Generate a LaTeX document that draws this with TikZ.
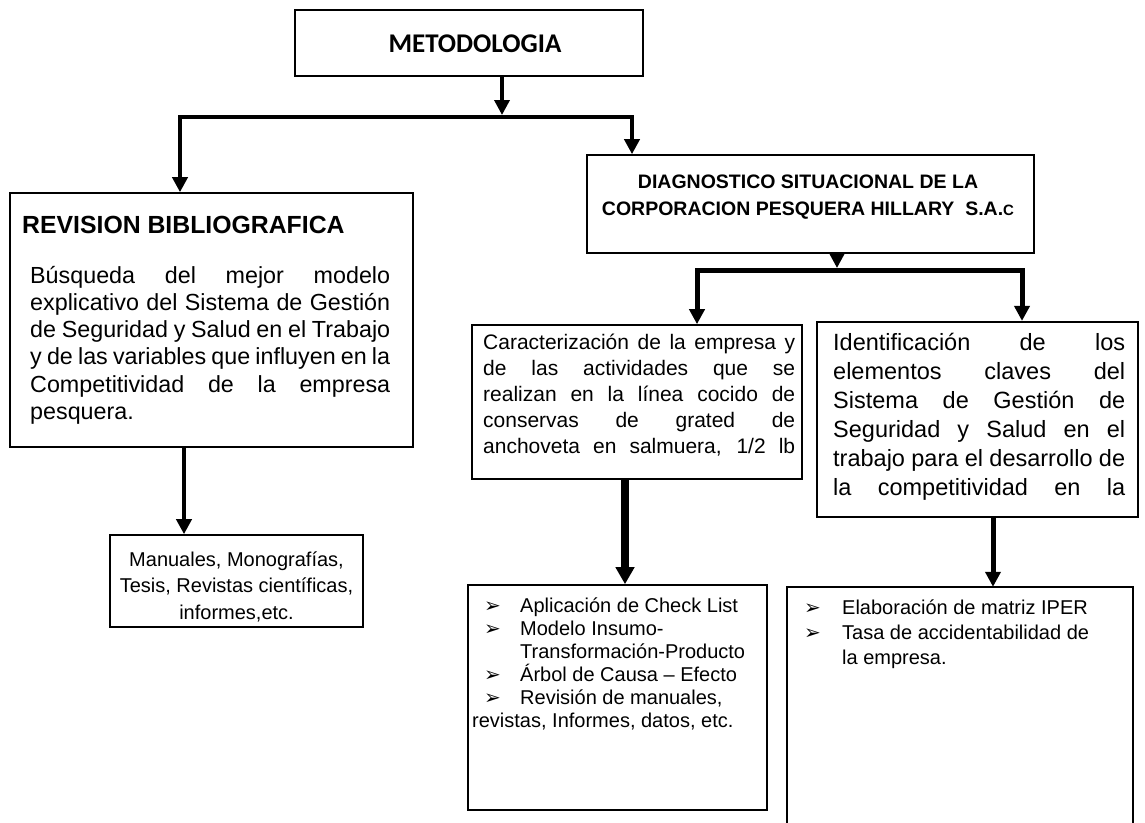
\documentclass[tikz,border=0pt]{standalone}
\usepackage{fontspec}
\setmainfont{Liberation Sans}
\newfontfamily\calfont{Carlito}
\newfontfamily\symfont{DejaVu Sans}
\usetikzlibrary{arrows.meta}

% list marker used in the two bullet boxes
\newcommand\arrbul{{\symfont\fontsize{20}{20}\selectfont ➢}}
% one fully justified line of a given width (font's own stretchable spaces)
\newcommand\jline[2]{{\spaceskip=0pt\xspaceskip=0pt\makebox[#1][s]{#2}}}

\tikzset{
  box/.style={draw, line width=1.6pt, inner sep=0pt, rectangle},
  txt/.style={inner sep=0pt, anchor=base west, align=flush left},
  ctxt/.style={inner sep=0pt, anchor=base, align=flush center},
  tip/.style={-{Triangle[length=15pt,width=15pt]}},
  bigtip/.style={-{Triangle[length=17pt,width=18pt]}},
  twotips/.style={{Triangle[length=15pt,width=15pt]}-{Triangle[length=15pt,width=15pt]}},
}

\begin{document}
\begin{tikzpicture}[x=1pt,y=-1pt]
\fill[white] (0,0) rectangle (1145,822);
\useasboundingbox (0,0) rectangle (1145,822);

% ---------- boxes ----------
\node[box, minimum width=348, minimum height=66] (meto) at (469,43) {};
\node[box, minimum width=403, minimum height=254] (rev) at (211.5,320) {};
\node[box, minimum width=253, minimum height=92] (man) at (236.5,581) {};
\node[box, minimum width=447, minimum height=98] (diag) at (810.5,204) {};
\node[box, minimum width=330, minimum height=154] (car) at (637,402) {};
\node[box, line width=2.2pt, minimum width=321, minimum height=195] (ide) at (977.5,419.5) {};
\node[box, minimum width=299, minimum height=225] (bul) at (617.5,697.5) {};
% the last box runs past the lower edge of the page
\node[inner sep=0pt, minimum width=346, minimum height=240] (iper) at (960,707) {};
\draw[line width=2.2pt] (iper.south west) -- (iper.north west) -- (iper.north east) -- (iper.south east);

% ---------- texts ----------
\node[ctxt, font={\calfont\bfseries\fontsize{27}{30}\selectfont}] (metot) at (475,52) {METODOLOGIA};

\node[txt, font={\bfseries\fontsize{24.8}{28}\selectfont}] (revtitle) at (22,233) {REVISION BIBLIOGRAFICA};
\node[txt, text width=360, font={\fontsize{23.3}{27.3}\selectfont}] (revt) at (30,283) {%
\jline{360pt}{Búsqueda del mejor modelo}\\
\jline{360pt}{explicativo del Sistema de Gestión}\\
\jline{360pt}{de Seguridad y Salud en el Trabajo}\\
\jline{360pt}{y de las variables que influyen en la}\\
\jline{360pt}{Competitividad de la empresa}\\
pesquera.};

\node[ctxt, text width=253, font={\fontsize{20}{26.5}\selectfont}] (mant) at (236.5,566) {%
Manuales, Monografías,\\
Tesis, Revistas científicas,\\
informes,etc.};

\node[ctxt, text width=447, font={\bfseries\fontsize{19.5}{27}\selectfont}] (diagt) at (808,188) {%
DIAGNOSTICO SITUACIONAL DE LA\\
CORPORACION PESQUERA HILLARY\ \ S.A.{\fontsize{15}{15}\selectfont C}};

\node[txt, text width=312, font={\fontsize{21}{26}\selectfont}] (cart) at (483,349) {%
\jline{312pt}{Caracterización de la empresa y}\\
\jline{312pt}{de las actividades que se}\\
\jline{312pt}{realizan en la línea cocido de}\\
\jline{312pt}{conservas de grated de}\\
\jline{312pt}{anchoveta en salmuera, 1/2 lb}};

\node[txt, text width=292, font={\fontsize{23.5}{29}\selectfont}] (idet) at (833,350) {%
\jline{292pt}{Identificación de los}\\
\jline{292pt}{elementos claves del}\\
\jline{292pt}{Sistema de Gestión de}\\
\jline{292pt}{Seguridad y Salud en el}\\
\jline{292pt}{trabajo para el desarrollo de}\\
\jline{292pt}{la competitividad en la}};

\node[txt, text width=292, font={\fontsize{20}{23}\selectfont}] (bult) at (472,612) {%
\hspace*{12pt}\makebox[36pt][l]{\arrbul}Aplicación de Check List\\
\hspace*{12pt}\makebox[36pt][l]{\arrbul}Modelo Insumo-\\
\hspace*{48pt}Transformación-Producto\\
\hspace*{12pt}\makebox[36pt][l]{\arrbul}Árbol de Causa – Efecto\\
\hspace*{12pt}\makebox[36pt][l]{\arrbul}Revisión de manuales,\\
revistas, Informes, datos, etc.};

\node[txt, text width=300, font={\fontsize{20}{25}\selectfont}] (ipert) at (804,614) {%
\makebox[38pt][l]{\arrbul}Elaboración de matriz IPER\\
\makebox[38pt][l]{\arrbul}Tasa de accidentabilidad de\\
\hspace*{38pt}la empresa.};

% ---------- connectors ----------
\coordinate (fa) at (502,115);
\coordinate (fl) at (180,117);
\coordinate (fr) at (632,117);
\draw[tip, line width=3.5pt] (meto.south -| fa) -- (fa);
\draw[twotips, line width=4.5pt] (rev.north -| fl) -- (fl) -- (fr) -- (diag.north -| fr);

\coordinate (fb) at (837,268);
\coordinate (gl) at (697,270);
\coordinate (gr) at (1022,270);
\draw[tip, line width=3.5pt] (diag.south -| fb) -- (fb);
\draw[twotips, line width=5pt] (car.north -| gl) -- (gl) -- (gr) -- (ide.north -| gr);

\coordinate (ra) at (184,0);
\draw[tip, line width=4pt] (rev.south -| ra) -- (man.north -| ra);
\coordinate (ca) at (625,0);
\draw[bigtip, line width=8pt] (car.south -| ca) -- (bul.north -| ca);
\coordinate (ia) at (993,0);
\draw[tip, line width=5pt] (ide.south -| ia) -- (iper.north -| ia);
\end{tikzpicture}
\end{document}
